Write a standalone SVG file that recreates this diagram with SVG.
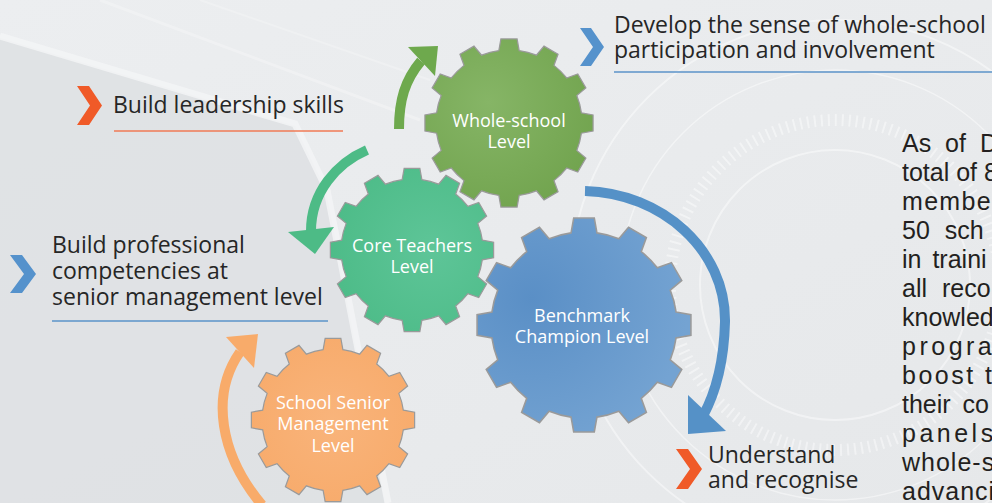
<svg xmlns="http://www.w3.org/2000/svg" xmlns:xlink="http://www.w3.org/1999/xlink" width="992" height="503" viewBox="0 0 992 503">
<defs>
<linearGradient id="bg" x1="0" y1="0" x2="1" y2="1">
<stop offset="0" stop-color="#eceef0"/>
<stop offset="1" stop-color="#e6e8ea"/>
</linearGradient>
<radialGradient id="gGreen" gradientUnits="userSpaceOnUse" cx="-20" cy="-20" r="110">
<stop offset="0" stop-color="#86b566"/>
<stop offset="1" stop-color="#72a44f"/>
</radialGradient>
<radialGradient id="gTeal" gradientUnits="userSpaceOnUse" cx="20" cy="0" r="110">
<stop offset="0" stop-color="#5ec598"/>
<stop offset="1" stop-color="#4cbb87"/>
</radialGradient>
<radialGradient id="gBlue" gradientUnits="userSpaceOnUse" cx="-40" cy="-20" r="120">
<stop offset="0" stop-color="#5a8fc6"/>
<stop offset="1" stop-color="#74a3d2"/>
</radialGradient>
<radialGradient id="gOrange" gradientUnits="userSpaceOnUse" cx="0" cy="0" r="100">
<stop offset="0" stop-color="#f9b47b"/>
<stop offset="1" stop-color="#f7aa6a"/>
</radialGradient>
<path id="gear" d="M70.31 -9.88 L81.62 -7.86 L81.62 7.86 L70.31 9.88 A71 71 0 0 1 65.83 26.60 L74.62 34.00 L66.76 47.62 L55.95 43.71 A71 71 0 0 1 43.71 55.95 L47.62 66.76 L34.00 74.62 L26.60 65.83 A71 71 0 0 1 9.88 70.31 L7.86 81.62 L-7.86 81.62 L-9.88 70.31 A71 71 0 0 1 -26.60 65.83 L-34.00 74.62 L-47.62 66.76 L-43.71 55.95 A71 71 0 0 1 -55.95 43.71 L-66.76 47.62 L-74.62 34.00 L-65.83 26.60 A71 71 0 0 1 -70.31 9.88 L-81.62 7.86 L-81.62 -7.86 L-70.31 -9.88 A71 71 0 0 1 -65.83 -26.60 L-74.62 -34.00 L-66.76 -47.62 L-55.95 -43.71 A71 71 0 0 1 -43.71 -55.95 L-47.62 -66.76 L-34.00 -74.62 L-26.60 -65.83 A71 71 0 0 1 -9.88 -70.31 L-7.86 -81.62 L7.86 -81.62 L9.88 -70.31 A71 71 0 0 1 26.60 -65.83 L34.00 -74.62 L47.62 -66.76 L43.71 -55.95 A71 71 0 0 1 55.95 -43.71 L66.76 -47.62 L74.62 -34.00 L65.83 -26.60 A71 71 0 0 1 70.31 -9.88 Z"/>
</defs>
<style>
.lbl{font-family:"Open Sans","Noto Sans",sans-serif;font-size:23px;fill:#262626}
.gt{font-family:"Open Sans","Noto Sans",sans-serif;font-size:18px;fill:#ffffff;text-anchor:middle}
.para{font-family:"Liberation Sans",Arial,sans-serif;font-size:25px;fill:#231f20}
.gearShape{stroke:#9a9a9a;stroke-width:1.2;vector-effect:non-scaling-stroke}
.shaft{fill:none;stroke-width:10}
.ul{stroke-width:1.6;fill:none}
</style>

<!-- background -->
<rect x="0" y="0" width="992" height="503" fill="url(#bg)"/>
<polygon points="0,38 295,126 326,190 385,503 0,503" fill="#dcdfe2" opacity="0.75"/>
<polyline points="0,36 295,124 327,190 388,503" fill="none" stroke="#f4f5f6" stroke-width="7" opacity="0.8"/>
<line x1="100" y1="0" x2="420" y2="120" stroke="#f4f5f6" stroke-width="3" opacity="0.6"/>
<line x1="200" y1="0" x2="430" y2="80" stroke="#f4f5f6" stroke-width="2" opacity="0.5"/>
<g fill="none" stroke="#ffffff" opacity="0.45">
<circle cx="835" cy="285" r="135" stroke-width="2"/>
<circle cx="835" cy="285" r="165" stroke-width="12" stroke-dasharray="2 5"/>
<circle cx="835" cy="285" r="215" stroke-width="1.5"/>
<circle cx="835" cy="285" r="265" stroke-width="2"/>
</g>

<!-- connectors -->
<g id="connectors">
<path class="shaft" stroke="#6ea94d" d="M399 129 C399 100 405 80 421 61"/>
<polygon fill="#6ea94d" points="408,47 438,46 435,76"/>
<path class="shaft" stroke="#4dbb86" d="M367 150 C337 163 311 192 311 231"/>
<polygon fill="#4dbb86" points="288,232 315,254 334,227"/>
<path class="shaft" stroke="#5591c7" d="M585 191 C662 193 726 250 725 322 C724 360 716 392 703 416"/>
<polygon fill="#5591c7" points="688,395 688,434 726,431"/>
<path class="shaft" stroke="#f8ab6a" d="M262 505 C220 455 210 395 240 352"/>
<polygon fill="#f8ab6a" points="226,337 258,334 254,368"/>
</g>

<!-- gears -->
<g id="node-senior" transform="translate(333 420)">
<use href="#gear" class="gearShape" fill="url(#gOrange)"/>
<text class="gt" x="0" y="-11">School Senior</text>
<text class="gt" x="0" y="10">Management</text>
<text class="gt" x="0" y="32">Level</text>
</g>
<g id="node-whole-school" transform="translate(509 123)">
<use href="#gear" class="gearShape" fill="url(#gGreen)" transform="scale(1.03)"/>
<text class="gt" x="0" y="4">Whole-school</text>
<text class="gt" x="0" y="25">Level</text>
</g>
<g id="node-benchmark" transform="translate(584 325)">
<use href="#gear" class="gearShape" fill="url(#gBlue)" transform="scale(1.31)"/>
<text class="gt" x="-2" y="-3">Benchmark</text>
<text class="gt" x="-2" y="18">Champion Level</text>
</g>
<g id="node-core" transform="translate(412 250)">
<use href="#gear" class="gearShape" fill="url(#gTeal)"/>
<text class="gt" x="0" y="2">Core Teachers</text>
<text class="gt" x="0" y="23">Level</text>
</g>

<!-- side labels -->
<g id="label-leadership">
<polygon fill="#f05a28" points="77,86 89,86 102,105.5 89,125 77,125 90,105.5"/>
<text class="lbl" x="113" y="113">Build leadership skills</text>
<line class="ul" stroke="#f07a55" x1="114" y1="131" x2="343" y2="131"/>
</g>
<g id="label-professional">
<polygon fill="#5592cc" points="10,255 22,255 36,274 22,293 10,293 24,274"/>
<text class="lbl" x="52" y="253">Build professional</text>
<text class="lbl" x="52" y="279">competencies at</text>
<text class="lbl" x="52" y="305">senior management level</text>
<line class="ul" stroke="#5b93c9" x1="52" y1="321" x2="328" y2="321"/>
</g>
<g id="label-develop">
<polygon fill="#5592cc" points="580,28 591,28 604,47 591,66 580,66 593,47"/>
<text class="lbl" x="614" y="33">Develop the sense of whole-school</text>
<text class="lbl" x="614" y="58">participation and involvement</text>
<line class="ul" stroke="#5b93c9" x1="614" y1="72" x2="992" y2="72"/>
</g>
<g id="label-understand">
<polygon fill="#f05a28" points="676,449 688,449 702,469 688,489 676,489 690,469"/>
<text class="lbl" x="708" y="463">Understand</text>
<text class="lbl" x="708" y="488">and recognise</text>
</g>

<!-- paragraph -->
<g id="paragraph" class="para">
<text x="902" y="152" word-spacing="7">As of D</text>
<text x="902" y="181">total of 8</text>
<text x="902" y="210" letter-spacing="1.3">membe</text>
<text x="902" y="239" word-spacing="8">50 sch</text>
<text x="902" y="268" word-spacing="4">in traini</text>
<text x="902" y="297" word-spacing="8">all reco</text>
<text x="902" y="326">knowled</text>
<text x="902" y="355" letter-spacing="3.5">progra</text>
<text x="902" y="384" letter-spacing="2.5">boost t</text>
<text x="902" y="413" word-spacing="5">their co</text>
<text x="902" y="442" letter-spacing="3.5">panels</text>
<text x="902" y="471" letter-spacing="1">whole-s</text>
<text x="902" y="500" letter-spacing="1">advanci</text>
</g>
</svg>
